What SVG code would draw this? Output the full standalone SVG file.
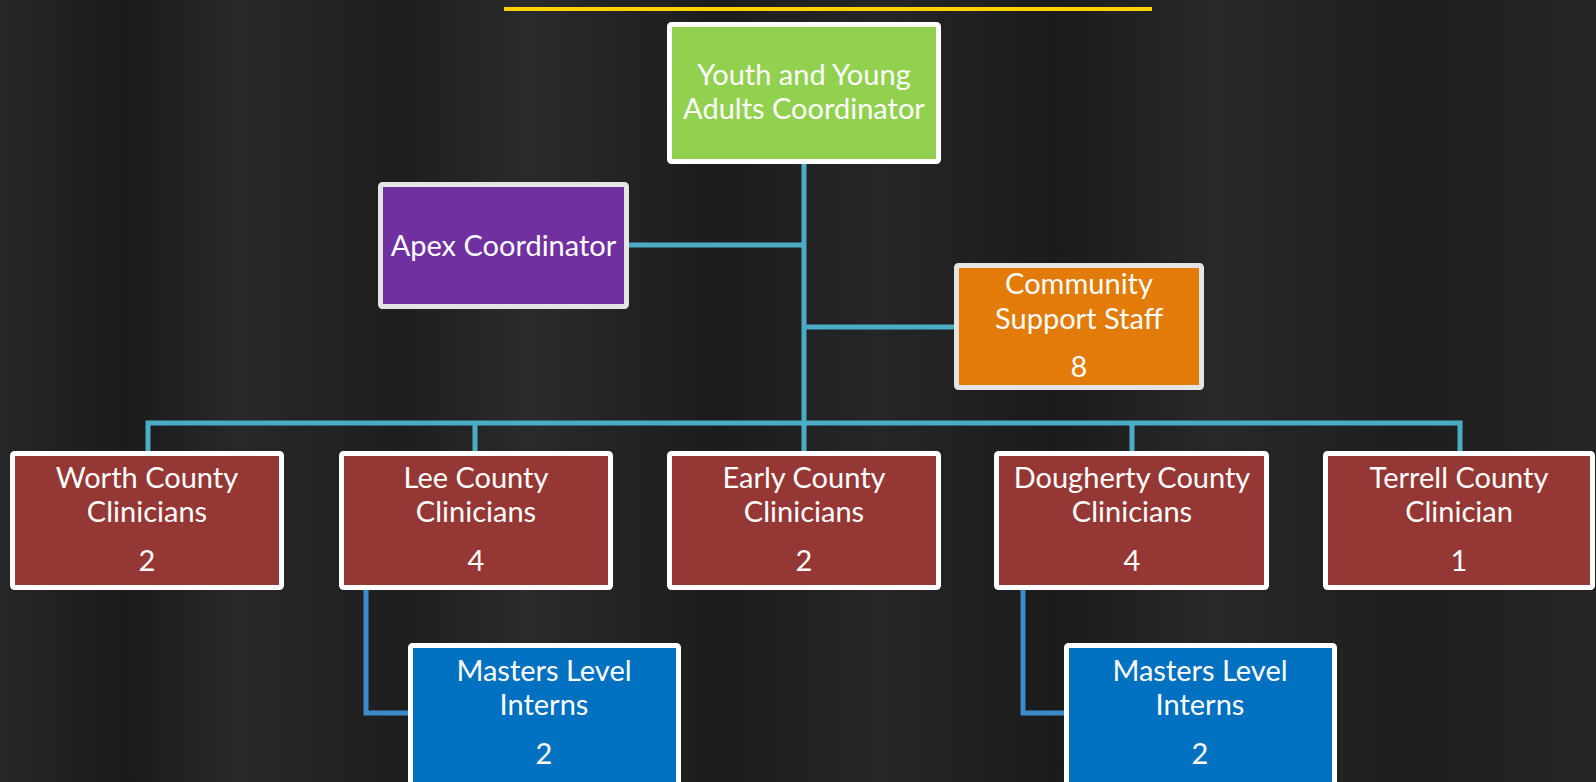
<svg xmlns="http://www.w3.org/2000/svg" width="1596" height="782" viewBox="0 0 1596 782">
<defs>
<linearGradient id="wood" x1="0" y1="0" x2="1" y2="0">
<stop offset="0" stop-color="#262626"/>
<stop offset="0.08" stop-color="#1b1b1b"/>
<stop offset="0.15" stop-color="#282828"/>
<stop offset="0.25" stop-color="#1e1e1e"/>
<stop offset="0.33" stop-color="#2a2a2a"/>
<stop offset="0.45" stop-color="#1c1c1c"/>
<stop offset="0.55" stop-color="#262626"/>
<stop offset="0.66" stop-color="#1b1b1b"/>
<stop offset="0.76" stop-color="#282828"/>
<stop offset="0.88" stop-color="#1e1e1e"/>
<stop offset="1" stop-color="#252525"/>
</linearGradient>
<style>
.box{stroke:#ffffff;stroke-width:5}
.soft{stroke:#e4e4e4}
.t{font-family:Lato,"Open Sans","Liberation Sans",sans-serif;font-size:29px;fill:#ffffff;text-anchor:middle}
.c{fill:none;stroke:#4bacc6;stroke-width:5}
.c2{fill:none;stroke:#3b8ccc;stroke-width:5}
</style>
</defs>
<rect width="1596" height="782" fill="url(#wood)"/>
<line x1="504" y1="9" x2="1152" y2="9" stroke="#ffd200" stroke-width="4"/>
<g id="connectors">
<path class="c" d="M804 163V423"/>
<path class="c" d="M629 245H804"/>
<path class="c" d="M804 327H954"/>
<path class="c" d="M148 451V423H1460V451"/>
<path class="c" d="M475 423V451"/>
<path class="c" d="M804 423V451"/>
<path class="c" d="M1132 423V451"/>
<path class="c2" d="M366 589V713H408"/>
<path class="c2" d="M1023 589V713H1064"/>
</g>
<g id="youth">
<rect class="box" x="669.5" y="24.5" width="269" height="137" rx="2" fill="#92d050"/>
<text class="t" x="804" y="85">Youth and Young</text>
<text class="t" x="804" y="119">Adults Coordinator</text>
</g>
<g id="apex">
<rect class="box soft" x="380.5" y="184.5" width="246" height="122" rx="2" fill="#7030a0"/>
<text class="t" x="503.5" y="256">Apex Coordinator</text>
</g>
<g id="community">
<rect class="box soft" x="956.5" y="265.5" width="245" height="122" rx="2" fill="#e27b08"/>
<text class="t" x="1079" y="294">Community</text>
<text class="t" x="1079" y="329">Support Staff</text>
<text class="t" x="1079" y="377">8</text>
</g>
<g id="worth">
<rect class="box" x="12.5" y="453.5" width="269" height="134" rx="2" fill="#953735"/>
<text class="t" x="147" y="488">Worth County</text>
<text class="t" x="147" y="522">Clinicians</text>
<text class="t" x="147" y="571">2</text>
</g>
<g id="lee">
<rect class="box" x="341.5" y="453.5" width="269" height="134" rx="2" fill="#953735"/>
<text class="t" x="476" y="488">Lee County</text>
<text class="t" x="476" y="522">Clinicians</text>
<text class="t" x="476" y="571">4</text>
</g>
<g id="early">
<rect class="box" x="669.5" y="453.5" width="269" height="134" rx="2" fill="#953735"/>
<text class="t" x="804" y="488">Early County</text>
<text class="t" x="804" y="522">Clinicians</text>
<text class="t" x="804" y="571">2</text>
</g>
<g id="dougherty">
<rect class="box" x="996.5" y="453.5" width="270" height="134" rx="2" fill="#953735"/>
<text class="t" x="1132" y="488">Dougherty County</text>
<text class="t" x="1132" y="522">Clinicians</text>
<text class="t" x="1132" y="571">4</text>
</g>
<g id="terrell">
<rect class="box" x="1325.5" y="453.5" width="267" height="134" rx="2" fill="#953735"/>
<text class="t" x="1459" y="488">Terrell County</text>
<text class="t" x="1459" y="522">Clinician</text>
<text class="t" x="1459" y="571">1</text>
</g>
<g id="interns-lee">
<rect class="box" x="410.5" y="645.5" width="268" height="150" rx="2" fill="#0070c0"/>
<text class="t" x="544" y="681">Masters Level</text>
<text class="t" x="544" y="715">Interns</text>
<text class="t" x="544" y="764">2</text>
</g>
<g id="interns-dougherty">
<rect class="box" x="1066.5" y="645.5" width="268" height="150" rx="2" fill="#0070c0"/>
<text class="t" x="1200" y="681">Masters Level</text>
<text class="t" x="1200" y="715">Interns</text>
<text class="t" x="1200" y="764">2</text>
</g>
</svg>
